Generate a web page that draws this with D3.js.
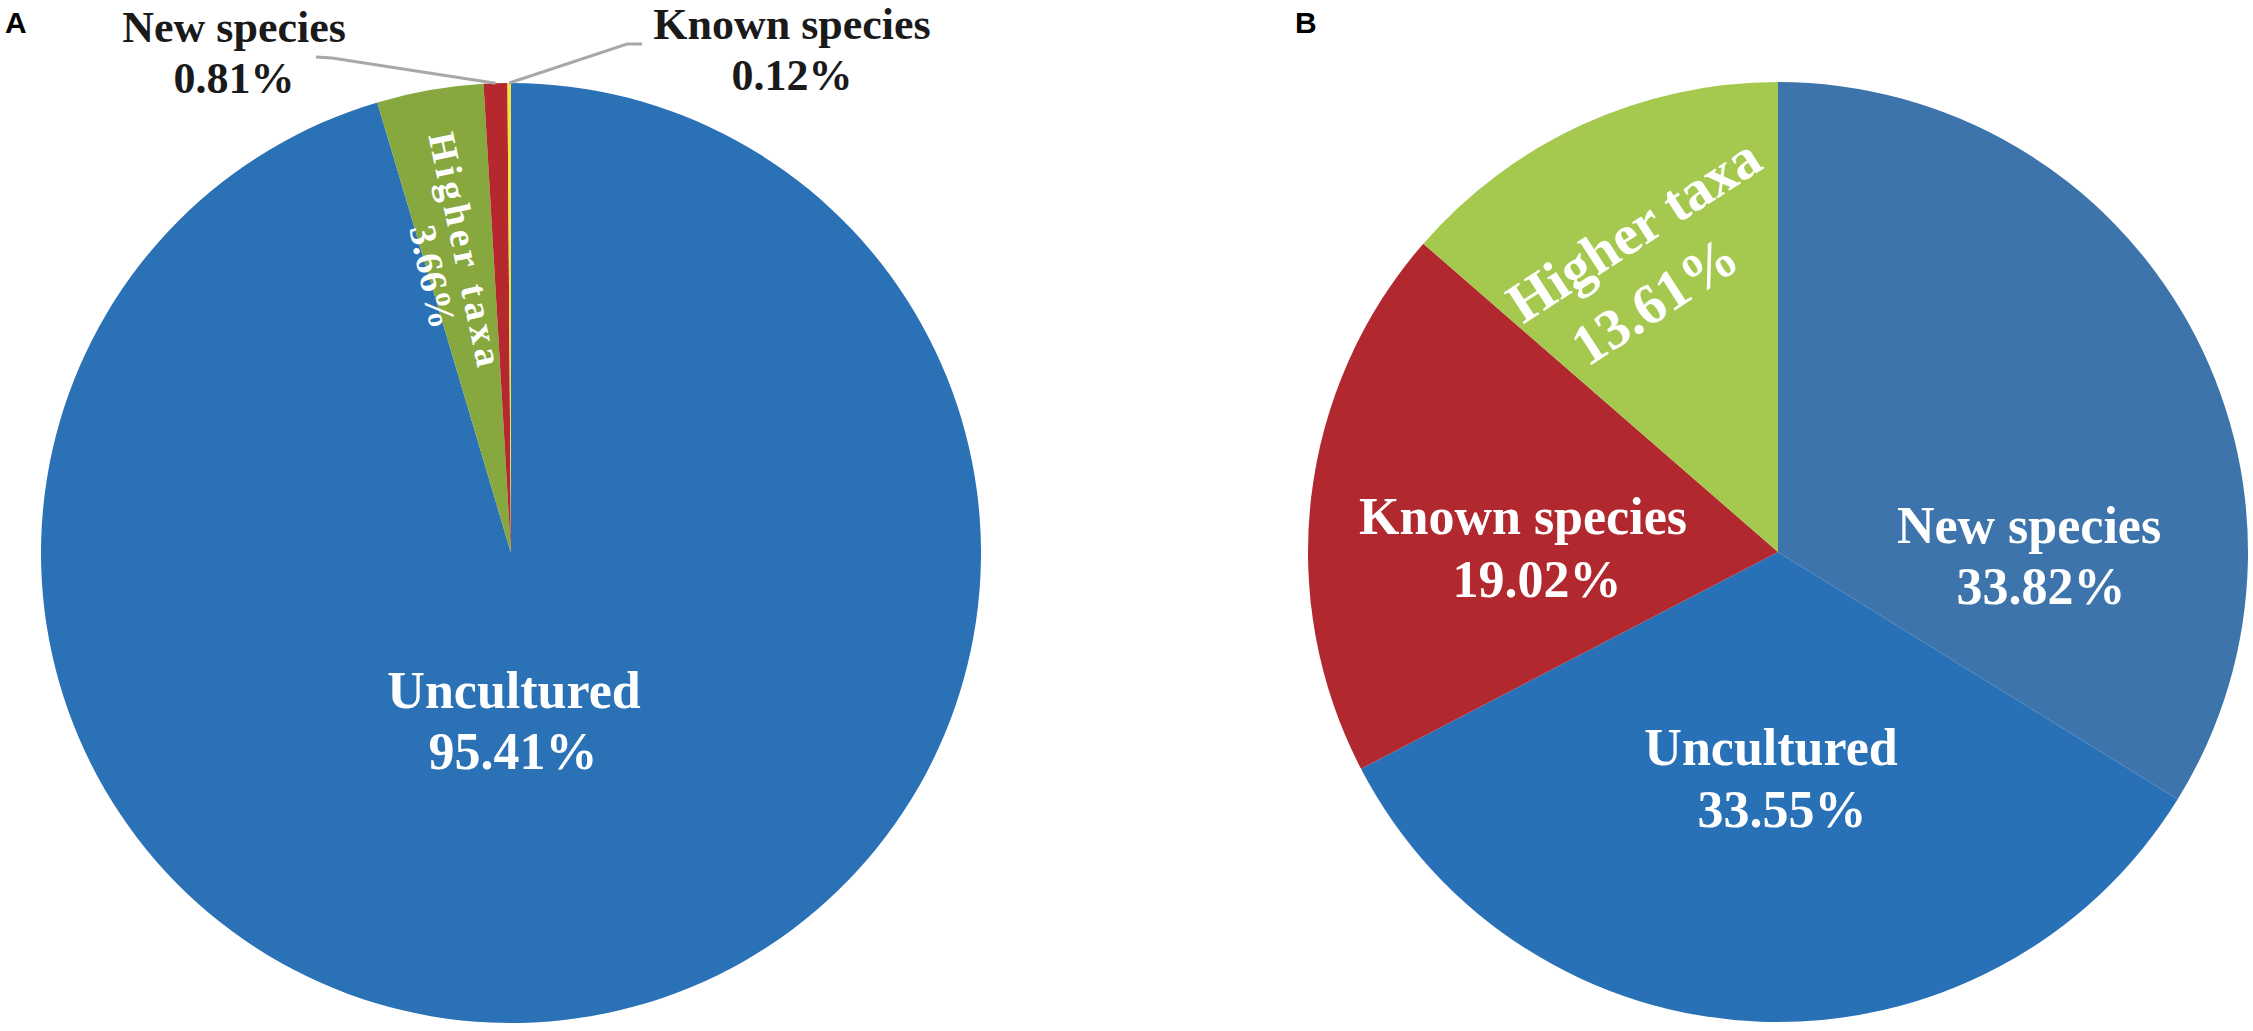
<!DOCTYPE html>
<html>
<head>
<meta charset="utf-8">
<script src="https://cdn.jsdelivr.net/npm/d3@7"></script>
<style>
  body { margin: 0; background: #fff; }
  svg text { font-family: 'Liberation Serif', 'Times New Roman', serif; font-weight: bold; }
  svg text.panel { font-family: 'Liberation Sans', Arial, sans-serif; font-size: 30px; }
</style>
</head>
<body>
<script>
// Panel A
const categoriesA = ['Uncultured', 'Higher taxa', 'New species', 'Known species']
const percentA = [95.41, 3.66, 0.81, 0.12]
const colorsA = ['#2a71b6', '#87a83e', '#b5282e', '#f2e33d']

// Panel B
const categoriesB = ['New species', 'Uncultured', 'Known species', 'Higher taxa']
const percentB = [33.82, 33.55, 19.02, 13.61]
const colorsB = ['#3d74ab', '#2971b6', '#b1282f', '#a5c94e']

const width = 2253
const height = 1031
const radius = 470

// label placement relative to the pie centre (x, y = first baseline)
const layoutA = {
  Uncultured: { x: 3, y: 155, shift: -1, gap: 61, size: 52, fill: '#fff' },
  'Higher taxa': { x: -58, y: -301, rotate: 78, shift: 20, gap: 38, size: 38, fill: '#fff', length: 238 },
  'New species': { x: -277, y: -511, shift: 0, gap: 51, size: 44, fill: '#1a1a1a',
    leader: [[-195, -496], [-179, -495]] },
  'Known species': { x: 281, y: -514, shift: 0, gap: 51, size: 44, fill: '#1a1a1a',
    leader: [[131, -509], [116, -509]] }
}
const layoutB = {
  'New species': { x: 251, y: -9, shift: 12, gap: 61, size: 52, fill: '#fff' },
  Uncultured: { x: -7, y: 213, shift: 11, gap: 62, size: 52, fill: '#fff' },
  'Known species': { x: -255, y: -18, shift: 14, gap: 63, size: 52, fill: '#fff' },
  'Higher taxa': { x: -134, y: -306, rotate: -33, shift: -21, gap: 71, size: 57, fill: '#fff' }
}

const svg = d3
  .select('body')
  .append('svg')
  .attr('width', width)
  .attr('height', height)

svg.append('text').attr('class', 'panel').attr('x', 5).attr('y', 33).text('A')
svg.append('text').attr('class', 'panel').attr('x', 1295).attr('y', 33).text('B')

const pie = d3
  .pie()
  .sort(null)
  .value((d) => d.value)

const arc = d3.arc().innerRadius(0).outerRadius(radius)
const edge = d3.arc().innerRadius(radius).outerRadius(radius)

function drawPie(cx, cy, categories, values, colors, layout) {
  const data = categories.map((c, i) => ({ name: c, value: values[i], color: colors[i] }))
  const slices = pie(data)
  const g = svg.append('g').attr('transform', `translate(${cx},${cy})`)

  g.selectAll('path')
    .data(slices)
    .enter()
    .append('path')
    .attr('d', arc)
    .attr('fill', (d) => d.data.color)

  // leader lines for labels sitting outside the pie
  const line = d3.line()
  g.selectAll('path.leader')
    .data(slices.filter((d) => layout[d.data.name].leader))
    .enter()
    .append('path')
    .attr('class', 'leader')
    .attr('fill', 'none')
    .attr('stroke', '#a8a8a8')
    .attr('stroke-width', 3)
    .attr('d', (d) => line(layout[d.data.name].leader.concat([edge.centroid(d)])))

  const labels = g
    .selectAll('g.label')
    .data(slices)
    .enter()
    .append('g')
    .attr('class', 'label')
    .attr('transform', (d) => {
      const l = layout[d.data.name]
      return `translate(${l.x},${l.y}) rotate(${l.rotate || 0})`
    })
    .style('font-size', (d) => layout[d.data.name].size + 'px')
    .attr('fill', (d) => layout[d.data.name].fill)

  labels
    .append('text')
    .attr('text-anchor', 'middle')
    .each(function (d) {
      const l = layout[d.data.name]
      if (l.length) d3.select(this).attr('textLength', l.length).attr('lengthAdjust', 'spacing')
    })
    .text((d) => d.data.name)

  labels
    .append('text')
    .attr('text-anchor', 'middle')
    .attr('x', (d) => layout[d.data.name].shift)
    .attr('y', (d) => layout[d.data.name].gap)
    .text((d) => d.data.value.toFixed(2) + '%')
}

drawPie(511, 553, categoriesA, percentA, colorsA, layoutA)
drawPie(1778, 552, categoriesB, percentB, colorsB, layoutB)
</script>
</body>
</html>
